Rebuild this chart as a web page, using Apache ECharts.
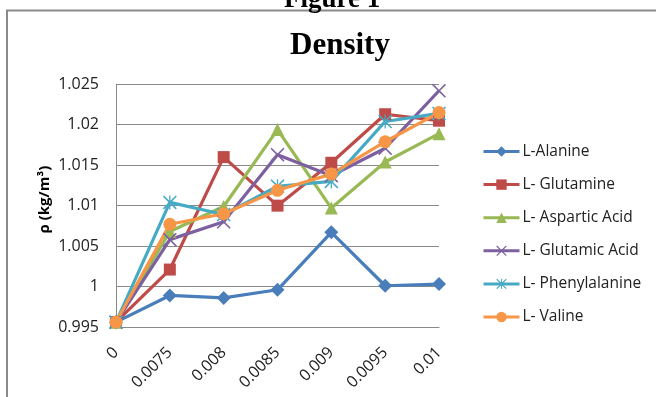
<!DOCTYPE html>
<html>
<head>
<meta charset="utf-8">
<script src="https://cdn.jsdelivr.net/npm/echarts@6/dist/echarts.min.js"></script>
<style>
  html, body { margin: 0; padding: 0; background: #fff; }
  #chart { width: 656px; height: 397px; }
</style>
</head>
<body>
<div id="chart"></div>
<script>
// Concentration categories (x axis)
const concentrations = ['0', '0.0075', '0.008', '0.0085', '0.009', '0.0095', '0.01'];
// Y axis tick labels, bottom to top
const yTicks = ['0.995', '1', '1.005', '1.01', '1.015', '1.02', '1.025'];

// Density values (kg/m³) per amino acid
const alanine       = [0.9956, 0.9989, 0.9986, 0.9996, 1.0067, 1.0001, 1.0003];
const glutamine     = [0.9956, 1.0021, 1.0160, 1.0100, 1.0153, 1.0213, 1.0205];
const asparticAcid  = [0.9956, 1.0068, 1.0099, 1.0194, 1.0097, 1.0154, 1.0189];
const glutamicAcid  = [0.9956, 1.0058, 1.0080, 1.0163, 1.0137, 1.0171, 1.0242];
const phenylalanine = [0.9956, 1.0104, 1.0089, 1.0124, 1.0130, 1.0204, 1.0214];
const valine        = [0.9956, 1.0077, 1.0090, 1.0119, 1.0139, 1.0179, 1.0215];

const seriesNames = ['L-Alanine', 'L- Glutamine', 'L- Aspartic Acid', 'L- Glutamic Acid', 'L- Phenylalanine', 'L- Valine'];

// Marker shapes: X cross and asterisk drawn as filled paths
const crossPath = 'path://M0,0.8 L0.8,0 L5,4.2 L9.2,0 L10,0.8 L5.8,5 L10,9.2 L9.2,10 L5,5.8 L0.8,10 L0,9.2 L4.2,5 Z';
const starPath = 'path://M0,0.8 L0.8,0 L5,4.2 L9.2,0 L10,0.8 L5.8,5 L10,9.2 L9.2,10 L5,5.8 L0.8,10 L0,9.2 L4.2,5 Z M4.55,0 L5.45,0 L5.45,10 L4.55,10 Z';

const styles = [
  { data: alanine,       color: '#4a7ebb', symbol: 'diamond',  size: 14 },
  { data: glutamine,     color: '#be4b48', symbol: 'rect',     size: 12 },
  { data: asparticAcid,  color: '#98b954', symbol: 'triangle', size: 13 },
  { data: glutamicAcid,  color: '#7d60a0', symbol: crossPath,  size: 14 },
  { data: phenylalanine, color: '#46aac5', symbol: starPath,   size: 14 },
  { data: valine,        color: '#f79646', symbol: 'circle',   size: 13 }
];

const labelFont = '"Open Sans", "Liberation Sans", sans-serif';

const chart = echarts.init(document.getElementById('chart'), null, { renderer: 'canvas' });

chart.setOption({
  animation: false,
  backgroundColor: '#ffffff',
  title: {
    text: 'Density',
    left: 335,
    textAlign: 'center',
    top: 25,
    textStyle: {
      fontFamily: '"Liberation Serif", "Times New Roman", serif',
      fontWeight: 'bold',
      fontSize: 31,
      color: '#000'
    }
  },
  graphic: [
    {
      type: 'rect',
      shape: { x: 7, y: 10.5, width: 700, height: 500 },
      style: { fill: 'none', stroke: '#8a8a8a', lineWidth: 2 },
      silent: true
    },
    {
      type: 'text',
      left: 284,
      top: -13,
      style: {
        text: 'Figure 1',
        font: 'bold 27px "Liberation Serif", "Times New Roman", serif',
        fill: '#000'
      },
      silent: true
    }
  ],
  grid: { left: 116, right: 217, top: 84.3, bottom: 70 },
  legend: {
    orient: 'vertical',
    left: 482,
    top: 143.5,
    padding: 0,
    itemWidth: 36,
    itemHeight: 13,
    itemGap: 17.1,
    data: seriesNames,
    lineStyle: { width: 3 },
    textStyle: { fontFamily: labelFont, fontSize: 15.5, color: '#222', lineHeight: 13, padding: [0, 0, 0, -2] }
  },
  xAxis: {
    type: 'category',
    data: concentrations,
    boundaryGap: false,
    axisLine: { show: true, lineStyle: { color: '#8a8a8a', width: 1 } },
    axisTick: { show: false },
    axisLabel: {
      rotate: 45,
      margin: 23,
      fontFamily: labelFont,
      fontSize: 16,
      color: '#222'
    },
    splitLine: { show: false }
  },
  yAxis: {
    type: 'value',
    min: 0.995,
    max: 1.025,
    interval: 0.005,
    name: 'ρ (kg/m³)',
    nameLocation: 'middle',
    nameGap: 64,
    nameTextStyle: {
      fontFamily: labelFont,
      fontWeight: 'bold',
      fontSize: 15,
      color: '#000',
      padding: [0, 0, 0, 12]
    },
    axisLine: { show: true, lineStyle: { color: '#8a8a8a', width: 1 } },
    axisTick: { show: false },
    axisLabel: {
      margin: 17,
      fontFamily: labelFont,
      fontSize: 16,
      color: '#222',
      formatter: function (v) {
        return yTicks[Math.round((v - 0.995) / 0.005)];
      }
    },
    splitLine: { show: true, lineStyle: { color: '#8a8a8a', width: 1 } }
  },
  series: styles.map(function (s, i) {
    return {
      name: seriesNames[i],
      type: 'line',
      data: s.data,
      symbol: s.symbol,
      symbolSize: s.size,
      showAllSymbol: true,
      lineStyle: { color: s.color, width: 3.2 },
      itemStyle: { color: s.color },
      emphasis: { disabled: true }
    };
  })
});
</script>
</body>
</html>
